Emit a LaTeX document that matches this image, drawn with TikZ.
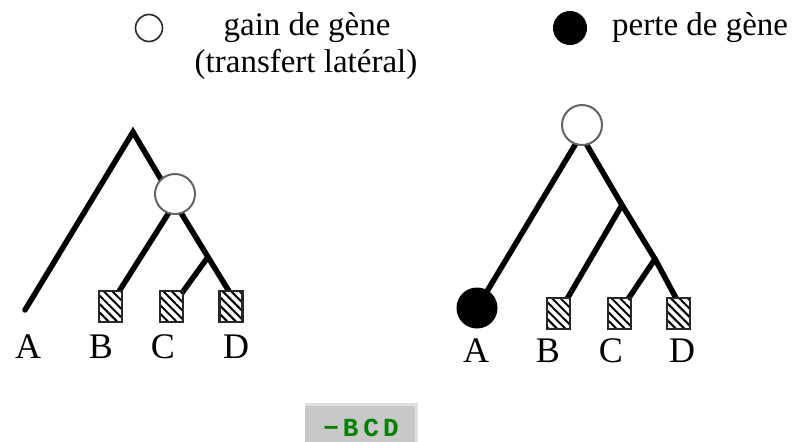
\documentclass[tikz,border=0pt]{standalone}
\usepackage{fontspec}
\setmainfont{Liberation Serif}
\newfontfamily\monof{Liberation Mono}
\usetikzlibrary{patterns.meta,calc}
\pgfdeclarelayer{bg}
\pgfsetlayers{bg,main}
\definecolor{circgray}{RGB}{100,100,100}
\definecolor{darkedge}{RGB}{40,40,40}
\definecolor{boxgray}{RGB}{200,200,200}
\definecolor{boxlight}{RGB}{224,224,224}
\definecolor{codegreen}{RGB}{0,128,0}
\begin{document}
\begin{tikzpicture}[x=1pt,y=-1pt,
  branch/.style={line width=5.5pt, line cap=round},
  gaincirc/.style={circle, draw=circgray, line width=2pt, fill=white, minimum size=40pt, inner sep=0pt},
  losscirc/.style={circle, draw=black, line width=1pt, fill=black, minimum size=40pt, inner sep=0pt},
  hatchbox/.style={rectangle, draw=darkedge, line width=2.2pt, minimum width=23pt, minimum height=31pt, inner sep=0pt, preaction={fill=white}, pattern={Lines[angle=-45,distance=6pt,line width=2pt]}},
  taxon/.style={font=\fontsize{36}{40}\selectfont, anchor=base, inner sep=0pt},
  legendtxt/.style={font=\fontsize{33}{37}\selectfont, anchor=base, inner sep=0pt}]
\useasboundingbox (0,0) rectangle (804,442);

% legend
\node[gaincirc, minimum size=27pt, line width=1.6pt, draw=darkedge] (keygain) at (149,28) {};
\node[legendtxt] (gain1) at (307,35) {gain de gène};
\node[legendtxt] (gain2) at (306,72) {(transfert latéral)};
\node[losscirc, minimum size=33pt] (keyloss) at (570,28) {};
\node[legendtxt, anchor=base west] (loss) at (612,35) {perte de gène};

% left tree
\coordinate (Lroot) at (133,132);
\coordinate (Ln1) at (175,203);
\coordinate (Ln2) at (208,257);
\coordinate (LAend) at (25,310);
\node[gaincirc] (Lgain) at (175,194) {};
\node[hatchbox] (LB) at (110.5,306.5) {};
\node[hatchbox] (LC) at (171.5,306.5) {};
\node[hatchbox] (LD) at (231,306.5) {};
\node[taxon] (LA) at (28,358) {A};
\node[taxon] (LBl) at (101,358) {B};
\node[taxon] (LCl) at (163,358) {C};
\node[taxon] (LDl) at (236,358) {D};

% right tree
\coordinate (Rn1) at (581,135);
\coordinate (Rn2) at (622,205);
\coordinate (Rn3) at (655,259);
\node[gaincirc] (Rgain) at (582,125) {};
\node[losscirc] (RA) at (477,308) {};
\node[hatchbox] (RB) at (558.5,313.5) {};
\node[hatchbox] (RC) at (619.5,313.5) {};
\node[hatchbox] (RD) at (678.5,313.5) {};
\node[taxon] (RAl) at (476,362) {A};
\node[taxon] (RBl) at (548,362) {B};
\node[taxon] (RCl) at (611,362) {C};
\node[taxon] (RDl) at (682,362) {D};

\begin{pgfonlayer}{bg}
  \draw[branch] (LAend) -- (Lroot) -- (Ln1) -- (Ln2) -- ($(LD.north)+(-1,3)$);
  \draw[branch] (Ln1) -- ($(LB.north)+(7.5,3)$);
  \draw[branch] (Ln2) -- ($(LC.north)+(10.5,3)$);
  \draw[branch] (RA.center) -- (Rn1) -- (Rn2) -- (Rn3) -- ($(RD.north)+(-1.5,3)$);
  \draw[branch] (Rn2) -- ($(RB.north)+(8,3)$);
  \draw[branch] (Rn3) -- ($(RC.north)+(8,3)$);
\end{pgfonlayer}

% bottom code box
\fill[boxlight] (305,403) rectangle (418,442);
\node[fill=boxgray, minimum width=110pt, minimum height=36pt, inner sep=0pt, anchor=south west] (codebox) at (305,442) {};
\node[text=codegreen, font=\monof\bfseries\fontsize{26}{30}\selectfont, inner sep=0pt] (code) at (361,428) {−\kern4pt B\kern5pt C\kern4pt D};
\end{tikzpicture}
\end{document}
